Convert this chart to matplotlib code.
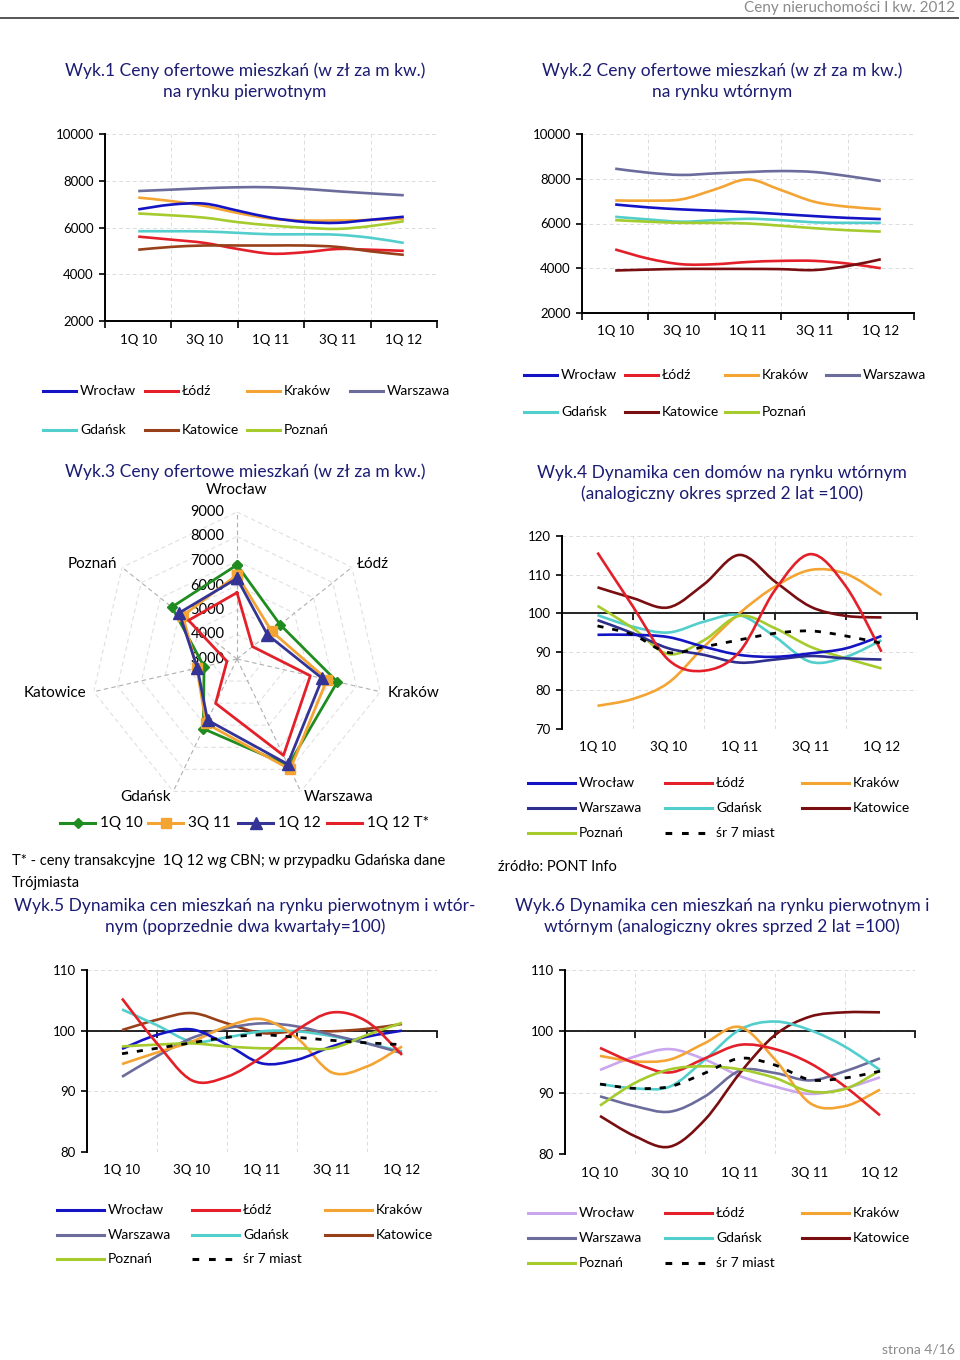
import numpy as np
import matplotlib
matplotlib.use('Agg')
import matplotlib.pyplot as plt
from matplotlib.path import Path
from matplotlib.patches import PathPatch
from matplotlib.lines import Line2D

plt.rcParams['font.family'] = ['Lato', 'DejaVu Sans']

W, H = 960, 1360

quarters = ['1Q 10', '2Q 10', '3Q 10', '4Q 10', '1Q 11', '2Q 11', '3Q 11', '4Q 11', '1Q 12']
cities = ['Wrocław', 'Łódź', 'Kraków', 'Warszawa', 'Gdańsk', 'Katowice', 'Poznań']

# Wyk.1 - offer prices, primary market (zł / m2)
w1_wroclaw = [6775, 6980, 7020, 6720, 6420, 6240, 6200, 6330, 6460]
w1_lodz = [5610, 5480, 5340, 5080, 4880, 4940, 5080, 5050, 5000]
w1_krakow = [7280, 7130, 6920, 6620, 6380, 6300, 6300, 6320, 6380]
w1_warszawa = [7560, 7620, 7680, 7720, 7720, 7650, 7550, 7460, 7380]
w1_gdansk = [5840, 5840, 5830, 5770, 5710, 5710, 5690, 5560, 5340]
w1_katowice = [5050, 5170, 5230, 5230, 5230, 5230, 5170, 4980, 4830]
w1_poznan = [6600, 6520, 6420, 6230, 6090, 5990, 5940, 6060, 6270]

# Wyk.2 - offer prices, secondary market
w2_wroclaw = [6850, 6720, 6630, 6570, 6510, 6420, 6330, 6250, 6200]
w2_lodz = [4840, 4430, 4180, 4180, 4280, 4330, 4330, 4210, 4000]
w2_krakow = [7030, 7020, 7080, 7520, 7970, 7490, 6970, 6750, 6640]
w2_warszawa = [8450, 8270, 8170, 8240, 8300, 8345, 8300, 8120, 7900]
w2_gdansk = [6300, 6180, 6080, 6150, 6210, 6150, 6050, 6030, 6030]
w2_katowice = [3900, 3940, 3970, 3970, 3970, 3960, 3920, 4100, 4400]
w2_poznan = [6150, 6080, 6030, 6030, 6000, 5900, 5790, 5700, 5640]

# Wyk.3 - radar, order of cities as in `cities`
radar_labels = ['1Q 10', '3Q 11', '1Q 12', '1Q 12 T*']
r_1q10 = [6840, 5250, 7200, 7830, 6160, 4380, 6400]
r_3q11 = [6430, 4810, 6770, 8000, 5920, 4680, 5830]
r_1q12 = [6290, 4590, 6570, 7760, 5770, 4660, 6020]
r_1q12t = [5710, 3810, 6070, 7370, 5010, 3420, 5530]
radar_ticks = [3000, 4000, 5000, 6000, 7000, 8000, 9000]

# Wyk.4 - house prices, secondary market (2 years earlier = 100)
w4_wroclaw = [94.4, 94.4, 93.8, 91.3, 89.2, 88.7, 89.6, 90.9, 94.1]
w4_lodz = [115.7, 101.7, 87.9, 85.1, 90.0, 106.0, 115.3, 106.9, 90.0]
w4_krakow = [76.0, 77.8, 82.0, 91.3, 100.0, 106.9, 111.2, 110.2, 104.7]
w4_warszawa = [98.2, 94.8, 90.9, 89.2, 87.2, 88.0, 88.9, 88.3, 88.0]
w4_gdansk = [99.5, 96.5, 95.0, 97.8, 99.5, 93.9, 87.4, 88.7, 93.0]
w4_katowice = [106.7, 103.9, 101.5, 107.5, 115.1, 108.2, 101.7, 99.3, 98.9]
w4_poznan = [101.9, 96.1, 89.4, 93.0, 99.3, 96.1, 91.3, 88.3, 85.7]
w4_avg = [96.7, 94.4, 89.8, 91.3, 93.1, 94.8, 95.4, 94.1, 92.2]

# Wyk.5 - flat prices (previous two quarters = 100)
w5_wroclaw = [97.0, 99.3, 100.2, 97.7, 94.6, 95.2, 97.4, 99.0, 100.0]
w5_lodz = [105.3, 97.9, 91.8, 92.4, 95.7, 100.1, 103.0, 101.5, 96.0]
w5_krakow = [94.5, 96.4, 98.2, 100.7, 101.9, 98.8, 93.1, 94.1, 97.4]
w5_warszawa = [92.4, 95.8, 98.8, 100.4, 101.2, 100.7, 99.3, 97.9, 96.3]
w5_gdansk = [103.5, 100.9, 98.2, 98.9, 99.9, 99.9, 99.1, 97.9, 96.6]
w5_katowice = [100.1, 101.8, 102.9, 101.2, 99.6, 99.9, 99.9, 100.3, 101.1]
w5_poznan = [97.4, 97.7, 97.9, 97.4, 97.1, 97.1, 97.1, 99.3, 101.3]
w5_avg = [96.2, 97.1, 98.0, 98.9, 99.3, 98.9, 98.4, 98.0, 97.7]

# Wyk.6 - flat prices (2 years earlier = 100)
w6_wroclaw = [93.7, 95.9, 97.1, 95.4, 92.7, 91.0, 89.8, 90.7, 92.5]
w6_lodz = [97.3, 94.8, 93.3, 95.6, 97.8, 97.1, 94.8, 91.0, 86.3]
w6_krakow = [96.0, 95.1, 95.4, 98.1, 100.7, 95.4, 88.3, 87.8, 90.5]
w6_warszawa = [89.4, 87.8, 86.9, 89.4, 93.6, 93.2, 92.0, 93.5, 95.6]
w6_gdansk = [91.4, 90.7, 91.0, 95.4, 100.3, 101.6, 100.2, 97.5, 93.7]
w6_katowice = [86.2, 82.9, 81.2, 85.6, 93.2, 99.4, 102.4, 103.1, 103.1]
w6_poznan = [87.9, 91.6, 93.8, 94.3, 93.8, 92.4, 90.2, 90.6, 93.6]
w6_avg = [91.4, 90.7, 91.0, 93.2, 95.6, 94.5, 92.1, 92.4, 93.5]

# colours
C_WRO = '#1414c4'
C_LOD = '#e3202a'
C_KRA = '#f4a432'
C_WAR = '#6c6c9c'
C_WAR4 = '#2e2e8e'
C_GDA = '#52cfcc'
C_KAT1 = '#98401a'
C_KAT2 = '#780e10'
C_POZ = '#a5cb2d'
C_WRO6 = '#c9a6ee'
C_AVG = '#000000'
TITLE_C = '#1b1b72'
AVG_LS = (0, (2.2, 3.2))

fig = plt.figure(figsize=(W / 100, H / 100), dpi=100)


def px_axes(left, top, right, bottom, **kw):
    return fig.add_axes([left / W, 1 - bottom / H, (right - left) / W, (bottom - top) / H], **kw)


def ftext(x, y, s, **kw):
    fig.text(x / W, 1 - y / H, s, **kw)


def smooth_line(ax, ys, color, lw=1.9, ls='-'):
    # excel-like smoothed line: cubic bezier through the data points
    pts = np.column_stack([np.arange(len(ys)), ys]).astype(float)
    ext = np.vstack([pts[0], pts, pts[-1]])
    verts = [pts[0]]
    codes = [Path.MOVETO]
    for i in range(len(pts) - 1):
        p0, p1, p2, p3 = ext[i], ext[i + 1], ext[i + 2], ext[i + 3]
        verts += [p1 + (p2 - p0) / 6, p2 - (p3 - p1) / 6, p2]
        codes += [Path.CURVE4] * 3
    ax.add_patch(PathPatch(Path(verts, codes), fill=False, edgecolor=color,
                           lw=lw, linestyle=ls, capstyle='butt', zorder=3))


def setup_line(ax, ymin, ymax, ystep, base=None, label_off=19):
    ax.set_xlim(-1, 9)
    ax.set_ylim(ymin, ymax)
    ax.set_yticks(np.arange(ymin, ymax + 1, ystep))
    ax.set_xticks(range(-1, 10, 2))
    ax.tick_params(axis='x', length=5, width=1.2, labelbottom=False)
    ax.tick_params(axis='y', length=4, width=1.2, labelsize=9.5, pad=4)
    ax.grid(True, color='#dcdcdc', ls=(0, (4, 3)), lw=0.7)
    ax.set_axisbelow(True)
    for s in ['top', 'right']:
        ax.spines[s].set_visible(False)
    ax.spines['left'].set_linewidth(1.4)
    ax.spines['bottom'].set_linewidth(1.4)
    if base is not None:
        ax.spines['bottom'].set_position(('data', base))
        ax.spines['bottom'].set_linewidth(1.2)
    for i in range(0, 9, 2):
        ax.annotate(quarters[i], xy=(i, 0), xycoords=('data', 'axes fraction'),
                    xytext=(0, -label_off * 0.72), textcoords='offset points',
                    ha='center', va='center', fontsize=9.5)


def legend_block(entries, cols, rows, line_len, fs=10, lw=2.2):
    for k, (lab, col, ls) in enumerate(entries):
        x0 = cols[k % len(cols)]
        y = rows[k // len(cols)]
        fig.add_artist(Line2D([x0 / W, (x0 + line_len) / W], [1 - y / H] * 2,
                              transform=fig.transFigure, color=col, lw=lw, ls=ls))
        ftext(x0 + line_len + 4, y, lab, ha='left', va='center', fontsize=fs)


# header / footer
ftext(955, 8, 'Ceny nieruchomości I kw. 2012', ha='right', va='center', fontsize=11, color='#8a8a8a')
fig.add_artist(Line2D([0, 958 / W], [1 - 18 / H] * 2, transform=fig.transFigure, color='#555555', lw=1.4))
ftext(955, 1350, 'strona 4/16', ha='right', va='center', fontsize=10, color='#8a8a8a')

# ---------------- Wyk.1 ----------------
ftext(245, 71, 'Wyk.1 Ceny ofertowe mieszkań (w zł za m kw.)', ha='center', va='center', fontsize=12.5, color=TITLE_C)
ftext(245, 92, 'na rynku pierwotnym', ha='center', va='center', fontsize=12.5, color=TITLE_C)
ax1 = px_axes(105, 134, 437, 321)
setup_line(ax1, 2000, 10000, 2000)
for ys, c in [(w1_warszawa, C_WAR), (w1_krakow, C_KRA), (w1_wroclaw, C_WRO), (w1_poznan, C_POZ),
              (w1_gdansk, C_GDA), (w1_lodz, C_LOD), (w1_katowice, C_KAT1)]:
    smooth_line(ax1, ys, c)
legend_block([('Wrocław', C_WRO, '-'), ('Łódź', C_LOD, '-'), ('Kraków', C_KRA, '-'), ('Warszawa', C_WAR, '-'),
              ('Gdańsk', C_GDA, '-'), ('Katowice', C_KAT1, '-'), ('Poznań', C_POZ, '-')],
             [43, 145, 247, 350], [391, 430], 33)

# ---------------- Wyk.2 ----------------
ftext(722, 71, 'Wyk.2 Ceny ofertowe mieszkań (w zł za m kw.)', ha='center', va='center', fontsize=12.5, color=TITLE_C)
ftext(722, 92, 'na rynku wtórnym', ha='center', va='center', fontsize=12.5, color=TITLE_C)
ax2 = px_axes(582, 134, 914, 313)
setup_line(ax2, 2000, 10000, 2000, label_off=18)
for ys, c in [(w2_warszawa, C_WAR), (w2_krakow, C_KRA), (w2_wroclaw, C_WRO), (w2_gdansk, C_GDA),
              (w2_poznan, C_POZ), (w2_lodz, C_LOD), (w2_katowice, C_KAT2)]:
    smooth_line(ax2, ys, c)
legend_block([('Wrocław', C_WRO, '-'), ('Łódź', C_LOD, '-'), ('Kraków', C_KRA, '-'), ('Warszawa', C_WAR, '-'),
              ('Gdańsk', C_GDA, '-'), ('Katowice', C_KAT2, '-'), ('Poznań', C_POZ, '-')],
             [524, 625, 725, 826], [375, 412], 33)

# ---------------- Wyk.3 radar ----------------
ftext(245, 472, 'Wyk.3 Ceny ofertowe mieszkań (w zł za m kw.)', ha='center', va='center', fontsize=12.5, color=TITLE_C)
axr = px_axes(90, 512, 384, 806, projection='polar')
axr.set_theta_offset(np.pi / 2)
axr.set_theta_direction(-1)
axr.set_ylim(3000, 9000)
axr.grid(False)
axr.spines['polar'].set_visible(False)
axr.set_xticks([])
axr.set_yticks([])
axr.patch.set_alpha(0)
angles = np.arange(len(cities)) * 2 * np.pi / len(cities)
ang_c = np.append(angles, angles[0])
for v in radar_ticks[1:]:
    axr.plot(ang_c, [v] * len(ang_c), color='#e0e0e0', lw=0.8, ls=(0, (4, 3)), zorder=1)
for a in angles:
    axr.plot([a, a], [3000, 9000], color='#b0b0b0', lw=0.8, ls=(0, (4, 3)), zorder=1)
for v in radar_ticks:
    axr.annotate(str(v), xy=(0, v), xytext=(-9, 0), textcoords='offset points',
                 ha='right', va='center', fontsize=10.5, zorder=2)
radar_series = [(r_1q10, '#1f8c1f', 'D', 5), (r_3q11, C_KRA, 's', 7),
                (r_1q12, '#343496', '^', 9), (r_1q12t, C_LOD, None, 0)]
for vals, c, mk, ms in radar_series:
    axr.plot(ang_c, np.append(vals, vals[0]), color=c, lw=2.0, marker=mk, ms=ms, zorder=4, clip_on=False)
lab_pos = [(9900, 'center', 'center'), (9250, 'left', 'center'), (9300, 'left', 'center'),
           (9250, 'left', 'center'), (9250, 'right', 'center'), (9300, 'right', 'center'),
           (9250, 'right', 'center')]
for a, name, (r, ha, va) in zip(angles, cities, lab_pos):
    axr.text(a, r, name, ha=ha, va=va, fontsize=11, clip_on=False)
# radar legend
for x0, (lab, (vals, c, mk, ms)) in zip([60, 148, 238, 327], zip(radar_labels, radar_series)):
    fig.add_artist(Line2D([x0 / W, (x0 + 35) / W], [1 - 823 / H] * 2, transform=fig.transFigure,
                          color=c, lw=2.2))
    if mk:
        fig.add_artist(Line2D([(x0 + 17.5) / W], [1 - 823 / H], transform=fig.transFigure,
                              color=c, marker=mk, ms=ms, lw=0))
    ftext(x0 + 40, 823, lab, ha='left', va='center', fontsize=11)

ftext(12, 861, 'T* - ceny transakcyjne  1Q 12 wg CBN; w przypadku Gdańska dane', ha='left', va='center', fontsize=10.5)
ftext(12, 883, 'Trójmiasta', ha='left', va='center', fontsize=10.5)
ftext(498, 867, 'źródło: PONT Info', ha='left', va='center', fontsize=10.5)

# ---------------- Wyk.4 ----------------
ftext(722, 473, 'Wyk.4 Dynamika cen domów na rynku wtórnym', ha='center', va='center', fontsize=12.5, color=TITLE_C)
ftext(722, 494, '(analogiczny okres sprzed 2 lat =100)', ha='center', va='center', fontsize=12.5, color=TITLE_C)
ax4 = px_axes(562, 536, 917, 729)
setup_line(ax4, 70, 120, 10, base=100, label_off=18)
for ys, c in [(w4_katowice, C_KAT2), (w4_krakow, C_KRA), (w4_gdansk, C_GDA), (w4_poznan, C_POZ),
              (w4_warszawa, C_WAR4), (w4_wroclaw, C_WRO), (w4_lodz, C_LOD)]:
    smooth_line(ax4, ys, c)
smooth_line(ax4, w4_avg, C_AVG, lw=2.0, ls=AVG_LS)
legend_block([('Wrocław', C_WRO, '-'), ('Łódź', C_LOD, '-'), ('Kraków', C_KRA, '-'),
              ('Warszawa', C_WAR4, '-'), ('Gdańsk', C_GDA, '-'), ('Katowice', C_KAT2, '-'),
              ('Poznań', C_POZ, '-'), ('śr 7 miast', C_AVG, AVG_LS)],
             [528, 665, 802], [783, 808, 833], 47)

# ---------------- Wyk.5 ----------------
ftext(245, 906, 'Wyk.5 Dynamika cen mieszkań na rynku pierwotnym i wtór-', ha='center', va='center', fontsize=12.5, color=TITLE_C)
ftext(245, 927, 'nym (poprzednie dwa kwartały=100)', ha='center', va='center', fontsize=12.5, color=TITLE_C)
ax5 = px_axes(87, 970, 437, 1152)
setup_line(ax5, 80, 110, 10, base=100, label_off=18)
for ys, c in [(w5_katowice, C_KAT1), (w5_gdansk, C_GDA), (w5_warszawa, C_WAR), (w5_krakow, C_KRA),
              (w5_wroclaw, C_WRO), (w5_poznan, C_POZ), (w5_lodz, C_LOD)]:
    smooth_line(ax5, ys, c)
smooth_line(ax5, w5_avg, C_AVG, lw=2.0, ls=AVG_LS)
legend_block([('Wrocław', C_WRO, '-'), ('Łódź', C_LOD, '-'), ('Kraków', C_KRA, '-'),
              ('Warszawa', C_WAR, '-'), ('Gdańsk', C_GDA, '-'), ('Katowice', C_KAT1, '-'),
              ('Poznań', C_POZ, '-'), ('śr 7 miast', C_AVG, AVG_LS)],
             [57, 192, 325], [1210, 1235, 1259], 47)

# ---------------- Wyk.6 ----------------
ftext(722, 906, 'Wyk.6 Dynamika cen mieszkań na rynku pierwotnym i', ha='center', va='center', fontsize=12.5, color=TITLE_C)
ftext(722, 927, 'wtórnym (analogiczny okres sprzed 2 lat =100)', ha='center', va='center', fontsize=12.5, color=TITLE_C)
ax6 = px_axes(565, 970, 915, 1154)
setup_line(ax6, 80, 110, 10, base=100, label_off=19)
for ys, c in [(w6_wroclaw, C_WRO6), (w6_warszawa, C_WAR), (w6_katowice, C_KAT2), (w6_gdansk, C_GDA),
              (w6_krakow, C_KRA), (w6_lodz, C_LOD), (w6_poznan, C_POZ)]:
    smooth_line(ax6, ys, c)
smooth_line(ax6, w6_avg, C_AVG, lw=2.0, ls=AVG_LS)
legend_block([('Wrocław', C_WRO6, '-'), ('Łódź', C_LOD, '-'), ('Kraków', C_KRA, '-'),
              ('Warszawa', C_WAR, '-'), ('Gdańsk', C_GDA, '-'), ('Katowice', C_KAT2, '-'),
              ('Poznań', C_POZ, '-'), ('śr 7 miast', C_AVG, AVG_LS)],
             [528, 665, 802], [1213, 1238, 1263], 47)

fig.savefig('out.png', dpi=100, facecolor='white')
